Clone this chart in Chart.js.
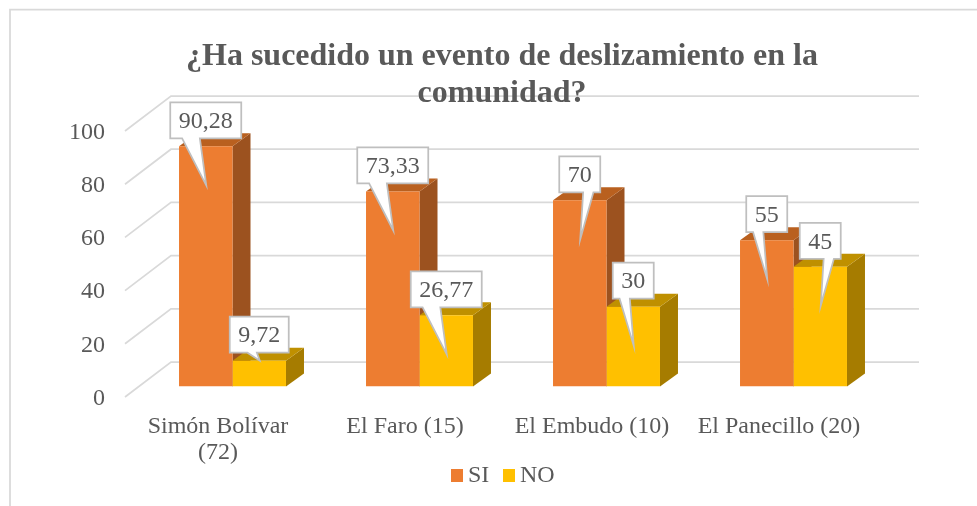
<!DOCTYPE html>
<html><head><meta charset="utf-8">
<style>html,body{margin:0;padding:0;background:#fff;overflow:hidden}canvas{display:block}</style>
<script src="https://cdn.jsdelivr.net/npm/chart.js@4"></script>
</head><body>
<canvas id="c" width="977" height="506"></canvas>
<script>
const categories = [["Simón Bolívar","(72)"],"El Faro (15)","El Embudo (10)","El Panecillo (20)"];
const seriesSI = [90.28,73.33,70,55];
const seriesNO = [9.72,26.77,30,45];
const yTicks = [0,20,40,60,80,100];
const titleLines = ["¿Ha sucedido un evento de deslizamiento en la","comunidad?"];
const calloutSI = ["L","L","R","L"];
const calloutNO = ["S","L","L","R"];

const SERIF = '"Liberation Serif","Times New Roman",serif';
const TXT = '#595959', GRID = '#d9d9d9';
const shades = [{side:'#9C521F',top:'#B9601F'},{side:'#A67C00',top:'#BF9000'}];
const DX = 18, DY = 13;
const base = {L:[.167,.417],R:[.583,.833],S:[.30,.46]};

const scene = {
  id:'scene',
  afterLayout(ch){
    // the title is centred over the plot's back wall, not the whole canvas
    if(ch.titleBlock){ ch.titleBlock.left = 27; ch.titleBlock.right = 977; }
  },
  beforeDraw(ch){
    const c = ch.ctx, y = ch.scales.y, a = ch.chartArea;
    c.save();
    c.strokeStyle = GRID; c.lineWidth = 1.75;
    c.beginPath(); c.moveTo(10,506); c.lineTo(10,9.5); c.lineTo(977,9.5); c.stroke();
    yTicks.forEach(v=>{
      const p = y.getPixelForValue(v);
      c.beginPath();
      c.moveTo(a.left-14, p+10.5);
      c.lineTo(a.left+32, p-24.5);
      c.lineTo(a.right+32, p-24.5);
      c.stroke();
    });
    c.restore();
  },
  beforeDatasetsDraw(ch){
    const c = ch.ctx;
    ch.data.datasets.forEach((d,i)=>{
      ch.getDatasetMeta(i).data.forEach(b=>{
        const r = b.x+b.width/2, l = b.x-b.width/2;
        c.fillStyle = shades[i].side;
        c.beginPath(); c.moveTo(r,b.y); c.lineTo(r+DX,b.y-DY); c.lineTo(r+DX,b.base-DY); c.lineTo(r,b.base); c.closePath(); c.fill();
        c.fillStyle = shades[i].top;
        c.beginPath(); c.moveTo(l,b.y); c.lineTo(l+DX,b.y-DY); c.lineTo(r+DX,b.y-DY); c.lineTo(r,b.y); c.closePath(); c.fill();
      });
    });
  },
  afterDatasetsDraw(ch){
    const c = ch.ctx;
    c.save();
    c.font = '24px '+SERIF; c.textAlign='center'; c.textBaseline='middle';
    ch.data.datasets.forEach((d,i)=>{
      const sides = i===0?calloutSI:calloutNO;
      ch.getDatasetMeta(i).data.forEach((b,j)=>{
        const txt = String(d.data[j]).replace('.',',');
        const w = c.measureText(txt).width+17;
        const l = b.x-w/2, t = b.y-44, bt = b.y-8;
        const tipY = (b.base-b.y)>60 ? b.y+39 : b.y;
        const f = base[sides[j]];
        c.beginPath();
        c.moveTo(l,t); c.lineTo(l+w,t); c.lineTo(l+w,bt);
        c.lineTo(l+w*f[1],bt); c.lineTo(b.x+0.5,tipY); c.lineTo(l+w*f[0],bt);
        c.lineTo(l,bt); c.closePath();
        c.fillStyle='#fff'; c.fill();
        c.strokeStyle='#BFBFBF'; c.lineWidth=1.75; c.stroke();
        c.fillStyle=TXT;
        c.fillText(txt,b.x,(t+bt)/2+1.5);
      });
    });
    c.restore();
  },
  afterDraw(ch){
    const c = ch.ctx;
    c.save();
    c.font='24px '+SERIF; c.textBaseline='middle'; c.textAlign='left';
    const x=[451,503];
    ch.data.datasets.forEach((d,i)=>{
      c.fillStyle=d.backgroundColor; c.fillRect(x[i],469,12,13);
      c.fillStyle=TXT; c.fillText(d.label,x[i]+17,476);
    });
    c.restore();
  }
};

new Chart(document.getElementById('c'),{
  type:'bar',
  data:{labels:categories,datasets:[
    {label:'SI',data:seriesSI,backgroundColor:'#ED7D31',categoryPercentage:.572,barPercentage:1},
    {label:'NO',data:seriesNO,backgroundColor:'#FFC000',categoryPercentage:.572,barPercentage:1}
  ]},
  plugins:[scene],
  options:{
    responsive:false,animation:false,
    layout:{autoPadding:false,padding:{left:0,right:90,top:38,bottom:0}},
    plugins:{
      legend:{display:false},tooltip:{enabled:false},
      title:{display:true,text:titleLines,color:TXT,padding:{top:0,bottom:8.5},
        font:{family:SERIF,size:32,weight:'bold',lineHeight:37/32}}
    },
    scales:{
      x:{
        afterFit(s){s.height=119.5;},
        grid:{display:false,drawTicks:false},border:{display:false},
        ticks:{color:TXT,padding:27,maxRotation:0,minRotation:0,autoSkip:false,labelOffset:-14.5,
          font:{family:SERIF,size:24,lineHeight:1.1}}
      },
      y:{
        min:0,max:100,
        afterFit(s){s.width=139;},
        afterBuildTicks(s){s.ticks=yTicks.map(v=>({value:v}));},
        grid:{display:false,drawTicks:false},border:{display:false},
        ticks:{color:TXT,padding:34,labelOffset:12,font:{family:SERIF,size:24}}
      }
    }
  }
});
</script>
</body></html>
